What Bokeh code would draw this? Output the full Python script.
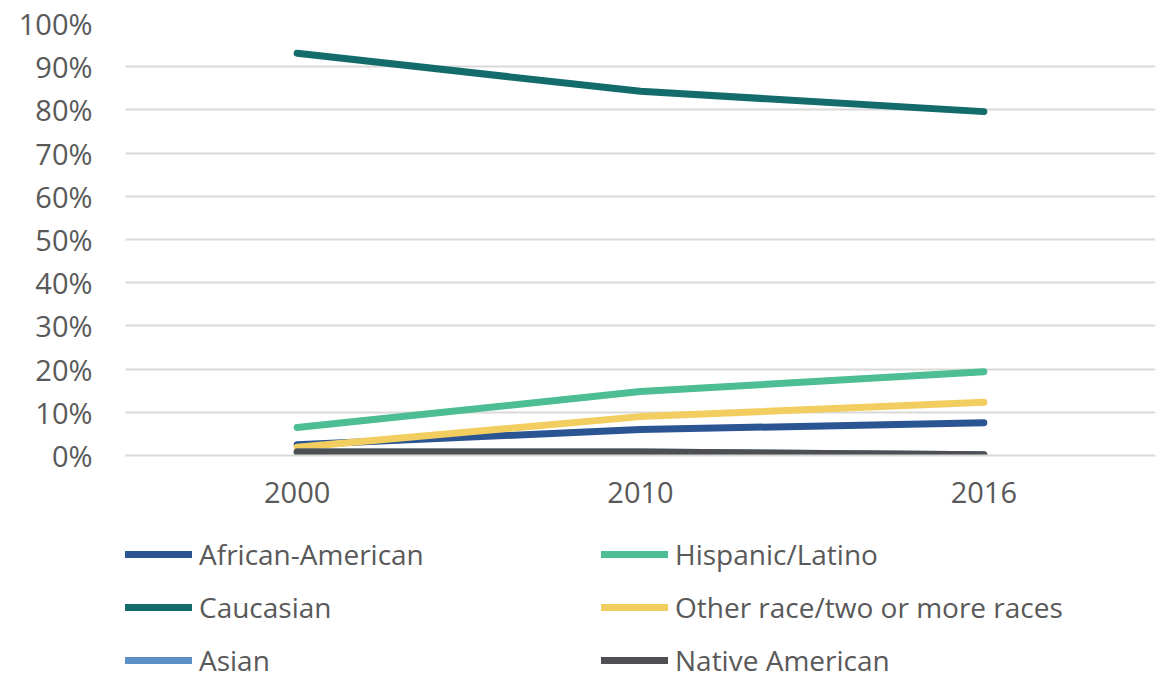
from bokeh.plotting import figure
from bokeh.layouts import column
from bokeh.models import Legend, LegendItem, PrintfTickFormatter, FixedTicker, Range1d
from bokeh.embed import file_html
from bokeh.resources import INLINE

years = ["2000", "2010", "2016"]
african_american = [2.5, 6.0, 7.6]
hispanic_latino = [6.5, 14.8, 19.4]
caucasian = [93.1, 84.3, 79.6]
other_race = [1.9, 9.0, 12.3]
asian = [0.8, 0.8, 0.2]
native_american = [0.8, 0.8, 0.2]
y_ticks = [0, 10, 20, 30, 40, 50, 60, 70, 80, 90, 100]

series = [
    ("African-American", african_american, "#2B5592"),
    ("Hispanic/Latino", hispanic_latino, "#4DBD94"),
    ("Caucasian", caucasian, "#136B6B"),
    ("Other race/two or more races", other_race, "#F2CE60"),
    ("Asian", asian, "#5A8FC8"),
    ("Native American", native_american, "#4D4F53"),
]

FONT = "Open Sans"
TXT = "#595959"
FS = "29px"

p = figure(width=1168, height=535, x_range=years, y_range=(0, 100),
           output_backend="svg", toolbar_location=None,
           min_border_left=125, min_border_right=13, min_border_top=23, min_border_bottom=80)
p.outline_line_color = None
p.background_fill_color = "white"
p.border_fill_color = "white"

for name, vals, color in series:
    p.line(years, vals, line_color=color, line_width=7, line_cap="round", line_join="round")

p.xgrid.grid_line_color = None
p.ygrid.grid_line_color = "#D9D9D9"
p.ygrid.grid_line_width = 2
p.yaxis.ticker = FixedTicker(ticks=y_ticks)
p.yaxis.formatter = PrintfTickFormatter(format="%d%%")

for ax in (p.xaxis[0], p.yaxis[0]):
    ax.major_tick_line_color = None
    ax.minor_tick_line_color = None
    ax.major_label_text_font = FONT
    ax.major_label_text_font_size = FS
    ax.major_label_text_color = TXT
p.yaxis.axis_line_color = None
p.xaxis.axis_line_color = "#D9D9D9"
p.xaxis.axis_line_width = 2
p.yaxis.major_label_standoff = 27
p.xaxis.major_label_standoff = 20

# legend panel (separate figure below the chart)
lg = figure(width=1168, height=144, output_backend="svg", toolbar_location=None,
            x_axis_type=None, y_axis_type=None,
            x_range=Range1d(0, 1), y_range=Range1d(0, 1),
            min_border_left=125, min_border_right=13, min_border_top=0, min_border_bottom=0)
lg.outline_line_color = None
lg.grid.visible = False
items = []
for name, vals, color in series:
    # data placed outside the visible range: only the legend swatch shows
    r = lg.line(x=[5, 6], y=[5, 6], line_color=color, line_width=7, line_cap="round")
    items.append(LegendItem(label=name, renderers=[r]))

legend = Legend(items=items, orientation="horizontal", ncols=2, location=(0, 0),
                label_text_font=FONT, label_text_font_size="28px", label_text_color=TXT,
                glyph_width=67, glyph_height=30, label_width=387, label_standoff=7,
                spacing=15, padding=0, margin=0, border_line_color=None,
                label_height=30)
legend.background_fill_alpha = 0
lg.add_layout(legend, "center")

layout = column(p, lg, spacing=0)
open("out.html", "w").write(file_html(layout, INLINE))
